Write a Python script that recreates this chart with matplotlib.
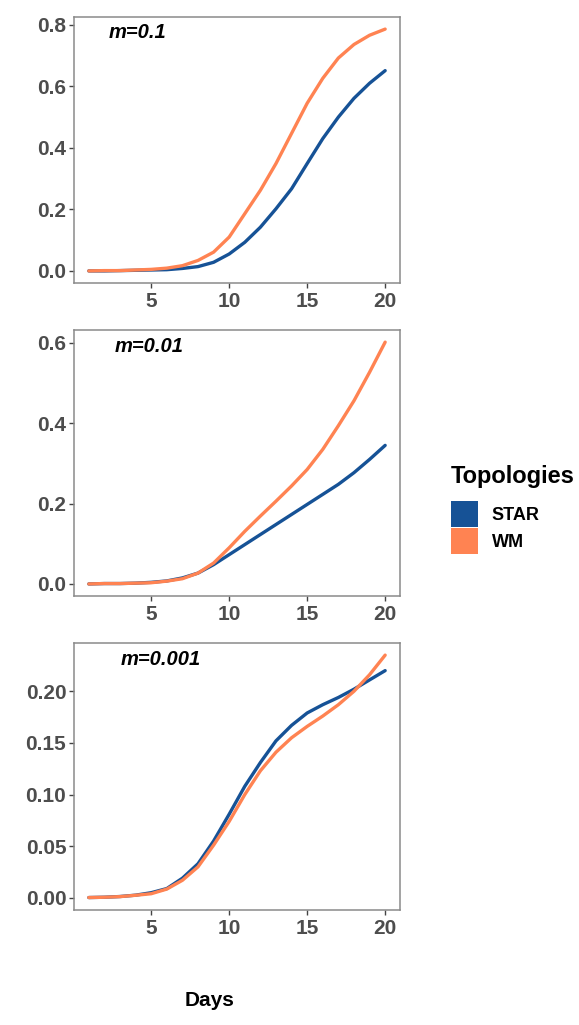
import matplotlib.pyplot as plt
from matplotlib.patches import Patch

plt.rcParams['font.family'] = ['Liberation Sans', 'DejaVu Sans']

# data
days = list(range(1, 21))

star_m01 = [0.000, 0.000, 0.001, 0.002, 0.003, 0.004, 0.008, 0.014, 0.028, 0.055,
            0.093, 0.142, 0.202, 0.267, 0.349, 0.430, 0.500, 0.561, 0.610, 0.651]
wm_m01 = [0.000, 0.001, 0.001, 0.003, 0.005, 0.009, 0.017, 0.034, 0.061, 0.110,
          0.186, 0.262, 0.349, 0.447, 0.545, 0.626, 0.692, 0.736, 0.766, 0.786]

star_m001 = [0.000, 0.001, 0.001, 0.002, 0.004, 0.0075, 0.015, 0.027, 0.048, 0.073,
             0.098, 0.123, 0.148, 0.173, 0.198, 0.223, 0.248, 0.277, 0.310, 0.345]
wm_m001 = [0.000, 0.001, 0.001, 0.002, 0.003, 0.007, 0.013, 0.027, 0.052, 0.090,
           0.131, 0.169, 0.206, 0.244, 0.285, 0.335, 0.394, 0.456, 0.527, 0.602]

star_m0001 = [0.0003, 0.0006, 0.0013, 0.0026, 0.005, 0.009, 0.019, 0.033, 0.055, 0.081,
              0.108, 0.131, 0.152, 0.167, 0.179, 0.187, 0.194, 0.202, 0.211, 0.220]
wm_m0001 = [0.0003, 0.0006, 0.0012, 0.0025, 0.004, 0.0085, 0.017, 0.030, 0.051, 0.074,
            0.100, 0.123, 0.141, 0.155, 0.166, 0.176, 0.187, 0.200, 0.216, 0.235]

panel_labels = ['m=0.1', 'm=0.01', 'm=0.001']
series_star = [star_m01, star_m001, star_m0001]
series_wm = [wm_m01, wm_m001, wm_m0001]
yticks = [[0.0, 0.2, 0.4, 0.6, 0.8], [0.0, 0.2, 0.4, 0.6],
          [0.00, 0.05, 0.10, 0.15, 0.20]]
yfmt = ['{:.1f}', '{:.1f}', '{:.2f}']
xticks = [5, 10, 15, 20]
topologies = ['STAR', 'WM']

blue = '#165296'
orange = '#ff8352'

fig = plt.figure(figsize=(5.79, 10.25), dpi=100)

# axes boxes [left, bottom, width, height]
boxes = [[0.1278, 0.7239, 0.563, 0.2595],
         [0.1278, 0.4185, 0.563, 0.2595],
         [0.1278, 0.1122, 0.563, 0.2605]]
label_x = [0.105, 0.125, 0.143]

for i in range(3):
    ax = fig.add_axes(boxes[i])
    ax.plot(days, series_star[i], color=blue, lw=2.4, solid_capstyle='round',
            solid_joinstyle='round')
    ax.plot(days, series_wm[i], color=orange, lw=2.4, solid_capstyle='round',
            solid_joinstyle='round')
    ymax = max(max(series_star[i]), max(series_wm[i]))
    ax.set_xlim(0.05, 20.95)
    ax.set_ylim(-0.05 * ymax, 1.05 * ymax)
    ax.set_xticks(xticks)
    ax.set_xticklabels([str(t) for t in xticks])
    ax.set_yticks(yticks[i])
    ax.set_yticklabels([yfmt[i].format(t) for t in yticks[i]])
    for s in ax.spines.values():
        s.set_color('#8a8a8a')
        s.set_linewidth(1.1)
    ax.tick_params(length=3.5, width=1.0, color='#444444', labelcolor='#4d4d4d',
                   labelsize=15)
    ax.tick_params(axis='x', pad=3)
    ax.tick_params(axis='y', pad=2)
    for lab in ax.get_xticklabels() + ax.get_yticklabels():
        lab.set_fontweight('bold')
    ax.text(label_x[i], 0.94, panel_labels[i], transform=ax.transAxes,
            fontsize=14.5, fontweight='bold', fontstyle='italic',
            ha='left', va='center', color='black')

fig.text(210 / 579, 1 - 1000 / 1025, 'Days', fontsize=15, fontweight='bold',
         ha='center', va='center')

# legend title drawn on its own, entries via fig.legend
fig.text(451 / 579, 1 - 477 / 1025, 'Topologies', fontsize=17,
         fontweight='bold', ha='left', va='center')
handles = [Patch(facecolor=blue, edgecolor='none'),
           Patch(facecolor=orange, edgecolor='none')]
leg = fig.legend(handles, topologies, loc='upper left',
                 bbox_to_anchor=(451 / 579, 1 - 501 / 1025),
                 frameon=False, fontsize=13, handlelength=1.5,
                 handleheight=1.85, handletextpad=0.75, labelspacing=0.05,
                 borderpad=0, borderaxespad=0)
for t in leg.get_texts():
    t.set_fontweight('bold')

fig.savefig('out.png', dpi=100)
